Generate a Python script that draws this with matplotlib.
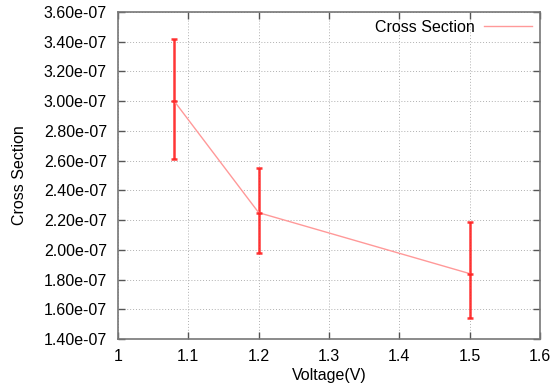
import matplotlib
matplotlib.use("Agg")
import matplotlib.pyplot as plt
import numpy as np

voltage = [1.08, 1.2, 1.5]
cross_section = [3.00e-07, 2.25e-07, 1.84e-07]
err_upper = [3.42e-07, 2.55e-07, 2.19e-07]
err_lower = [2.61e-07, 1.98e-07, 1.54e-07]
xticks = [1, 1.1, 1.2, 1.3, 1.4, 1.5, 1.6]
yticks = [1.4e-7, 1.6e-7, 1.8e-7, 2.0e-7, 2.2e-7, 2.4e-7, 2.6e-7, 2.8e-7, 3.0e-7, 3.2e-7, 3.4e-7, 3.6e-7]

plt.rcParams['font.family'] = ['Liberation Sans', 'DejaVu Sans']
plt.rcParams['font.size'] = 11.5

fig = plt.figure(figsize=(5.53, 3.89), dpi=100)
ax = fig.add_axes([118/553, 1 - 339/389, (540-118)/553, (339-12)/389])

y = np.array(cross_section)
yerr = np.array([y - np.array(err_lower), np.array(err_upper) - y])
ax.errorbar(voltage, y, yerr=yerr, fmt='none', ecolor='#ff2020', elinewidth=1.8,
            capsize=2.5, capthick=1.8, alpha=0.9, zorder=3)
ax.plot(voltage, y, color='#ff9999', lw=1.0, label='Cross Section', zorder=4)
ax.plot(voltage, y, linestyle='none', marker='_', markersize=5, mew=1.8,
        color='#ff2020', alpha=0.9, zorder=5)

ax.set_xlim(1, 1.6)
ax.set_ylim(1.4e-7, 3.6e-7)
ax.set_xticks(xticks)
ax.set_xticklabels([f"{v:g}" for v in xticks])
ax.set_yticks(yticks)
ax.set_yticklabels([f"{v:.2e}" for v in yticks])
ax.grid(True, color='#b0b0b0', linestyle=(0, (1, 2)), lw=0.7)
ax.tick_params(direction='in', top=True, right=True, length=5, width=1, color='#555555')
ax.tick_params(axis='x', pad=7)
ax.tick_params(axis='y', pad=8)
for s in ax.spines.values():
    s.set_color('#777777')
    s.set_linewidth(1.2)

ax.set_xlabel('Voltage(V)', labelpad=3)
ax.set_ylabel('Cross Section', labelpad=12)
leg = ax.legend(loc='upper right', frameon=False, handlelength=3.0, markerfirst=False,
                borderaxespad=0.1, handletextpad=0.6, fontsize=11.5)

fig.savefig('out.png', dpi=100)
